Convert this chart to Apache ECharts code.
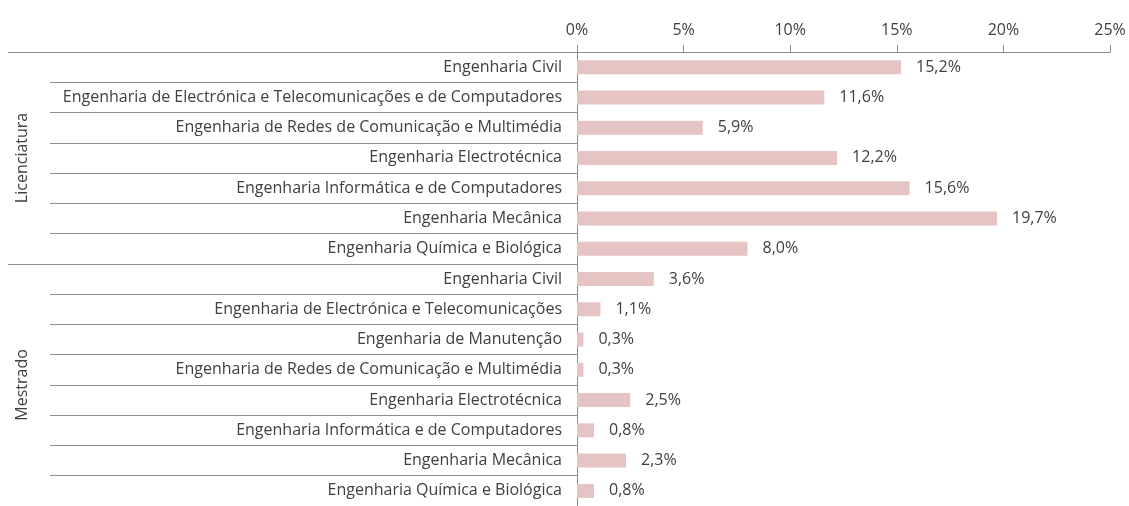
<!DOCTYPE html>
<html><head><meta charset="utf-8">
<script src="https://cdn.jsdelivr.net/npm/echarts@6/dist/echarts.min.js"></script>
<style>html,body{margin:0;padding:0;background:#fff}#c{width:1129px;height:506px}</style>
</head><body><div id="c"></div>
<script>
const categories = [
  'Engenharia Civil',
  'Engenharia de Electrónica e Telecomunicações e de Computadores',
  'Engenharia de Redes de Comunicação e Multimédia',
  'Engenharia Electrotécnica',
  'Engenharia Informática e de Computadores',
  'Engenharia Mecânica',
  'Engenharia Química e Biológica',
  'Engenharia Civil ',
  'Engenharia de Electrónica e Telecomunicações',
  'Engenharia de Manutenção',
  'Engenharia de Redes de Comunicação e Multimédia ',
  'Engenharia Electrotécnica ',
  'Engenharia Informática e de Computadores ',
  'Engenharia Mecânica ',
  'Engenharia Química e Biológica '
];
const values = [15.2, 11.6, 5.9, 12.2, 15.6, 19.7, 8.0, 3.6, 1.1, 0.3, 0.3, 2.5, 0.8, 2.3, 0.8];
const groups = ['Licenciatura', 'Mestrado'];
const groupStarts = [0, 7];
const groupSizes = [7, 8];
const xTicks = [0, 5, 10, 15, 20, 25];

const FONT = 'Open Sans';
const FS = 16;
const TXT = '#404040';
const LINE = '#8c8c8c';
const chart = echarts.init(document.getElementById('c'));
chart.setOption({
  animation: false,
  grid: { left: 577, top: 52, width: 533, height: 459, containLabel: false },
  xAxis: {
    type: 'value', position: 'top', min: xTicks[0], max: xTicks[xTicks.length - 1], interval: xTicks[1] - xTicks[0],
    axisLine: { show: true, lineStyle: { color: LINE, width: 1 } },
    axisTick: { show: true, length: 7, lineStyle: { color: LINE } },
    splitLine: { show: false },
    axisLabel: { formatter: '{value}%', color: TXT, fontFamily: FONT, fontSize: FS, margin: 14 }
  },
  yAxis: [{
    type: 'category', data: categories, inverse: true,
    axisLine: { show: true, lineStyle: { color: LINE, width: 1 } },
    axisTick: { show: true, length: 527, lineStyle: { color: LINE } },
    axisLabel: { color: TXT, fontFamily: FONT, fontSize: FS, margin: 15, formatter: v => v.trim() }
  }, {
    type: 'category', data: categories, inverse: true, position: 'left',
    axisLine: { show: false },
    axisTick: { show: true, length: 569, lineStyle: { color: LINE },
      interval: (i) => groupStarts.indexOf(i) >= 0 },
    axisLabel: { show: false }
  }],
  series: [{
    type: 'bar', data: values, barWidth: 14, yAxisIndex: 0,
    itemStyle: { color: '#e6c4c4' },
    label: { show: true, position: 'right', distance: 15, color: TXT, fontFamily: FONT, fontSize: FS,
      formatter: p => p.value.toFixed(1).replace('.', ',') + '%' }
  }]
});
const gfx = groups.map((g, k) => {
  const a = chart.convertToPixel({ yAxisIndex: 0 }, groupStarts[k]);
  const b = chart.convertToPixel({ yAxisIndex: 0 }, groupStarts[k] + groupSizes[k] - 1);
  return { type: 'text', x: 22, y: (a + b) / 2, rotation: Math.PI / 2,
    style: { text: g, fill: TXT, font: FS + 'px "' + FONT + '"', align: 'center', verticalAlign: 'middle' } };
});
chart.setOption({ graphic: gfx });
</script></body></html>
